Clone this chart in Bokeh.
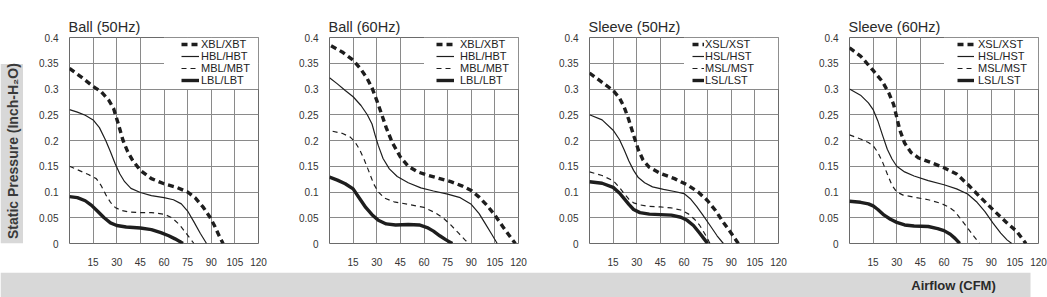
import math
from bokeh.plotting import figure
from bokeh.layouts import row, column
from bokeh.models import Range1d, FixedTicker, Legend, LegendItem
from bokeh.core.properties import value
from bokeh.embed import file_html
from bokeh.resources import INLINE

# ---------------- data ----------------
panel_titles = ["Ball (50Hz)", "Ball (60Hz)", "Sleeve (50Hz)", "Sleeve (60Hz)"]
ball_labels = ["XBL/XBT", "HBL/HBT", "MBL/MBT", "LBL/LBT"]
sleeve_labels = ["XSL/XST", "HSL/HST", "MSL/MST", "LSL/LST"]

x_ticks = [15, 30, 45, 60, 75, 90, 105, 120]
x_grid = [0, 15, 30, 45, 60, 75, 90, 105, 120]
y_ticks = [0.0, 0.05, 0.1, 0.15, 0.2, 0.25, 0.3, 0.35, 0.4]
y_tick_labels = ["0", "0.05", "0.1", "0.15", "0.2", "0.25", "0.3", "0.35", "0.4"]

y_axis_label = "Static Pressure (Inch-H\u2082O)"
x_axis_label = "Airflow (CFM)"

# Ball 50Hz
b50_x_cfm = [0, 8, 15, 20, 25, 28, 31, 34, 37, 40, 45, 52, 60, 68, 75, 80, 85, 89, 92, 95, 97.5]
b50_x_sp = [0.34, 0.322, 0.305, 0.295, 0.278, 0.262, 0.232, 0.2, 0.178, 0.162, 0.142, 0.126, 0.116, 0.109, 0.1, 0.088, 0.07, 0.052, 0.035, 0.015, 0]
b50_h_cfm = [0, 5, 10, 15, 19, 23, 26, 29, 32, 35, 39, 45, 52, 60, 66, 71, 75, 79, 83, 87]
b50_h_sp = [0.26, 0.255, 0.249, 0.24, 0.225, 0.2, 0.178, 0.155, 0.135, 0.12, 0.107, 0.099, 0.093, 0.089, 0.085, 0.077, 0.063, 0.042, 0.02, 0]
b50_m_cfm = [0, 6, 12, 17, 20, 23, 26, 29, 33, 38, 45, 52, 60, 65, 70, 74, 77, 79]
b50_m_sp = [0.15, 0.142, 0.134, 0.126, 0.113, 0.095, 0.08, 0.07, 0.064, 0.061, 0.06, 0.06, 0.057, 0.05, 0.036, 0.02, 0.008, 0]
b50_l_cfm = [0, 5, 10, 14, 18, 22, 26, 30, 36, 45, 52, 58, 63, 67, 70, 72]
b50_l_sp = [0.091, 0.089, 0.083, 0.074, 0.062, 0.05, 0.04, 0.035, 0.032, 0.03, 0.027, 0.021, 0.015, 0.009, 0.004, 0]

# Ball 60Hz
b60_x_cfm = [1, 8, 15, 20, 24, 27, 30, 33, 36, 40, 45, 50, 56, 63, 70, 77, 84, 90, 95, 100, 105, 110, 115, 118]
b60_x_sp = [0.384, 0.372, 0.356, 0.338, 0.32, 0.302, 0.278, 0.252, 0.225, 0.195, 0.168, 0.15, 0.139, 0.132, 0.126, 0.12, 0.112, 0.103, 0.09, 0.074, 0.055, 0.033, 0.012, 0]
b60_h_cfm = [0, 5, 10, 15, 20, 24, 27, 29, 31, 34, 38, 43, 50, 58, 66, 75, 83, 90, 95, 99, 103, 106.5]
b60_h_sp = [0.322, 0.31, 0.297, 0.285, 0.268, 0.25, 0.232, 0.21, 0.19, 0.165, 0.145, 0.13, 0.118, 0.108, 0.102, 0.096, 0.089, 0.076, 0.058, 0.038, 0.018, 0]
b60_m_cfm = [2, 8, 13, 16, 19, 22, 25, 28, 31, 35, 41, 50, 60, 67, 72, 77, 82, 86, 88.5]
b60_m_sp = [0.218, 0.214, 0.207, 0.198, 0.183, 0.163, 0.14, 0.116, 0.1, 0.088, 0.081, 0.076, 0.07, 0.06, 0.05, 0.036, 0.02, 0.007, 0]
b60_l_cfm = [0, 5, 10, 15, 19, 23, 27, 31, 36, 42, 50, 57, 62, 66, 70, 74, 78]
b60_l_sp = [0.129, 0.123, 0.116, 0.106, 0.088, 0.07, 0.056, 0.045, 0.038, 0.036, 0.037, 0.036, 0.031, 0.024, 0.015, 0.007, 0]

# Sleeve 50Hz
s50_x_cfm = [0, 8, 15, 19, 22, 25, 28, 31, 34, 38, 45, 54, 62, 69, 75, 80, 85, 90, 94.5]
s50_x_sp = [0.331, 0.313, 0.297, 0.283, 0.265, 0.24, 0.21, 0.182, 0.162, 0.148, 0.136, 0.126, 0.114, 0.1, 0.083, 0.064, 0.041, 0.02, 0]
s50_h_cfm = [0, 8, 15, 19, 22, 25, 28, 31, 35, 40, 47, 54, 60, 64, 68, 72, 77, 81, 85]
s50_h_sp = [0.25, 0.24, 0.22, 0.202, 0.182, 0.16, 0.142, 0.128, 0.118, 0.11, 0.105, 0.101, 0.097, 0.087, 0.072, 0.055, 0.033, 0.015, 0]
s50_m_cfm = [0, 8, 15, 19, 22, 25, 28, 32, 38, 45, 52, 58, 63, 67, 70, 73, 75, 76.5]
s50_m_sp = [0.139, 0.132, 0.122, 0.109, 0.097, 0.086, 0.079, 0.075, 0.072, 0.071, 0.069, 0.065, 0.057, 0.046, 0.035, 0.02, 0.009, 0]
s50_l_cfm = [0, 8, 15, 19, 22, 25, 28, 32, 38, 45, 52, 58, 62, 66, 70, 73, 75]
s50_l_sp = [0.12, 0.117, 0.109, 0.098, 0.087, 0.076, 0.066, 0.06, 0.057, 0.056, 0.055, 0.051, 0.045, 0.035, 0.02, 0.008, 0]

# Sleeve 60Hz
s60_x_cfm = [0, 7, 15, 21, 25, 28, 30, 32, 35, 39, 44, 52, 60, 68, 75, 83, 92, 100, 106, 112]
s60_x_sp = [0.38, 0.364, 0.336, 0.314, 0.292, 0.27, 0.245, 0.22, 0.195, 0.177, 0.166, 0.157, 0.147, 0.135, 0.115, 0.09, 0.063, 0.04, 0.024, 0]
s60_h_cfm = [0, 7, 12, 15, 18, 21, 24, 27, 30, 35, 41, 50, 60, 68, 75, 81, 86, 91, 96, 100, 103]
s60_h_sp = [0.3, 0.288, 0.273, 0.26, 0.238, 0.21, 0.183, 0.164, 0.15, 0.139, 0.131, 0.122, 0.114, 0.106, 0.096, 0.08, 0.062, 0.04, 0.02, 0.007, 0]
s60_m_cfm = [0, 7, 12, 15, 18, 21, 24, 27, 30, 34, 41, 50, 58, 63, 67, 71, 75, 79, 82.5]
s60_m_sp = [0.211, 0.203, 0.196, 0.19, 0.177, 0.158, 0.135, 0.113, 0.1, 0.094, 0.09, 0.085, 0.078, 0.071, 0.062, 0.046, 0.03, 0.014, 0]
s60_l_cfm = [0, 7, 12, 15, 18, 22, 26, 30, 35, 41, 50, 56, 60, 64, 67, 70]
s60_l_sp = [0.082, 0.08, 0.077, 0.073, 0.066, 0.055, 0.047, 0.041, 0.036, 0.034, 0.033, 0.029, 0.025, 0.018, 0.01, 0]

panels = [
    (panel_titles[0], ball_labels, [(b50_x_cfm, b50_x_sp), (b50_h_cfm, b50_h_sp), (b50_m_cfm, b50_m_sp), (b50_l_cfm, b50_l_sp)]),
    (panel_titles[1], ball_labels, [(b60_x_cfm, b60_x_sp), (b60_h_cfm, b60_h_sp), (b60_m_cfm, b60_m_sp), (b60_l_cfm, b60_l_sp)]),
    (panel_titles[2], sleeve_labels, [(s50_x_cfm, s50_x_sp), (s50_h_cfm, s50_h_sp), (s50_m_cfm, s50_m_sp), (s50_l_cfm, s50_l_sp)]),
    (panel_titles[3], sleeve_labels, [(s60_x_cfm, s60_x_sp), (s60_h_cfm, s60_h_sp), (s60_m_cfm, s60_m_sp), (s60_l_cfm, s60_l_sp)]),
]

# ---------------- styles ----------------
FONT = "Liberation Sans"
LINE_COLOR = "#1e1e1e"
GRID_COLOR = "#8a8a8a"
OUTLINE_COLOR = "#6a6a6a"
BAND_COLOR = "#d8d8d8"
series_styles = [("6 4", 3.4), ("solid", 1.2), ("5 4", 1.2), ("solid", 3.4)]
legend_geom = [(112, 18, 2), (107, 18, 6), (103, 12, 1), (108, 17, 4)]  # x offset, glyph width, standoff

PANEL_H = 272
figs = []
for i, (title, labels, series) in enumerate(panels):
    w = 244 if i == 3 else 260
    p = figure(width=w, height=PANEL_H, x_range=Range1d(0, 120), y_range=Range1d(0, 0.4),
               toolbar_location=None, output_backend="svg",
               min_border_left=46, min_border_right=w - 46 - 189, min_border_top=37,
               min_border_bottom=PANEL_H - 37 - 206)
    p.title.text = title
    p.title.align = "left"
    p.title.text_font = FONT
    p.title.text_font_size = "14.5px"
    p.title.text_font_style = "normal"
    p.title.text_color = "#2a2a2a"
    p.title.standoff = 5
    p.title.offset = -1

    p.outline_line_color = OUTLINE_COLOR
    p.outline_line_width = 1
    p.background_fill_color = "white"
    p.border_fill_color = "white"

    p.xaxis.ticker = FixedTicker(ticks=x_ticks)
    p.yaxis.ticker = FixedTicker(ticks=y_ticks)
    p.yaxis.major_label_overrides = dict(zip(y_ticks, y_tick_labels))
    for ax in (p.xaxis, p.yaxis):
        ax.axis_line_color = None
        ax.major_tick_line_color = None
        ax.minor_tick_line_color = None
        ax.major_label_text_font = FONT
        ax.major_label_text_font_size = "10px"
        ax.major_label_text_color = "#333333"
    p.xaxis.major_label_standoff = 8
    p.yaxis.major_label_standoff = 5

    p.xgrid.ticker = FixedTicker(ticks=x_grid)
    p.ygrid.ticker = FixedTicker(ticks=y_ticks)
    for g in (p.xgrid, p.ygrid):
        g.grid_line_color = GRID_COLOR
        g.grid_line_width = 1
        g.grid_line_alpha = 1

    # white box behind the legend (covers grid in upper-right cells)
    p.quad(left=x_grid[4], right=x_grid[-1], bottom=y_ticks[6], top=y_ticks[-1],
           fill_color="white", line_color=None)

    items = []
    for (xs, ys), lab, (dash, lw) in zip(series, labels, series_styles):
        r = p.line(xs, ys, line_color=LINE_COLOR, line_width=lw, line_dash=dash)
        items.append(LegendItem(label=lab, renderers=[r]))

    lx, gw, ls = legend_geom[i]
    leg = Legend(items=items, location=(lx, 157), background_fill_alpha=0,
                 border_line_color=None, label_text_font=FONT, label_text_font_size="11px",
                 label_text_color="#222222", glyph_width=gw, glyph_height=10,
                 label_height=10, spacing=0, padding=0, margin=0, label_standoff=ls)
    p.add_layout(leg)
    figs.append(p)

# left grey strip with the y-axis title
strip = figure(width=23, height=PANEL_H, x_range=Range1d(0, 23), y_range=Range1d(0, PANEL_H),
               x_axis_type=None, y_axis_type=None, toolbar_location=None, output_backend="svg",
               min_border=0, outline_line_color=None)
strip.grid.visible = False
strip.quad(left=0, right=23, bottom=0, top=PANEL_H - 35, fill_color=BAND_COLOR, line_color=None)
strip.text(x=[12.5], y=[PANEL_H - 150], text=[y_axis_label], angle=math.pi / 2,
           text_align="center", text_baseline="middle", text_font=value(FONT),
           text_font_size="14px", text_font_style="bold", text_color="#3a3a3a")

# bottom grey band with the x-axis title
band = figure(width=1047, height=25, x_range=Range1d(0, 1047), y_range=Range1d(0, 25),
              x_axis_type=None, y_axis_type=None, toolbar_location=None, output_backend="svg",
              min_border=0, outline_line_color=None)
band.grid.visible = False
band.quad(left=0, right=1030, bottom=0, top=25, fill_color=BAND_COLOR, line_color=None)
band.text(x=[953], y=[12], text=[x_axis_label], text_align="center", text_baseline="middle",
          text_font=value(FONT), text_font_size="13px", text_font_style="bold", text_color="#2a2a2a")

layout = column(row(strip, *figs), band)
open("out.html", "w").write(file_html(layout, INLINE))
